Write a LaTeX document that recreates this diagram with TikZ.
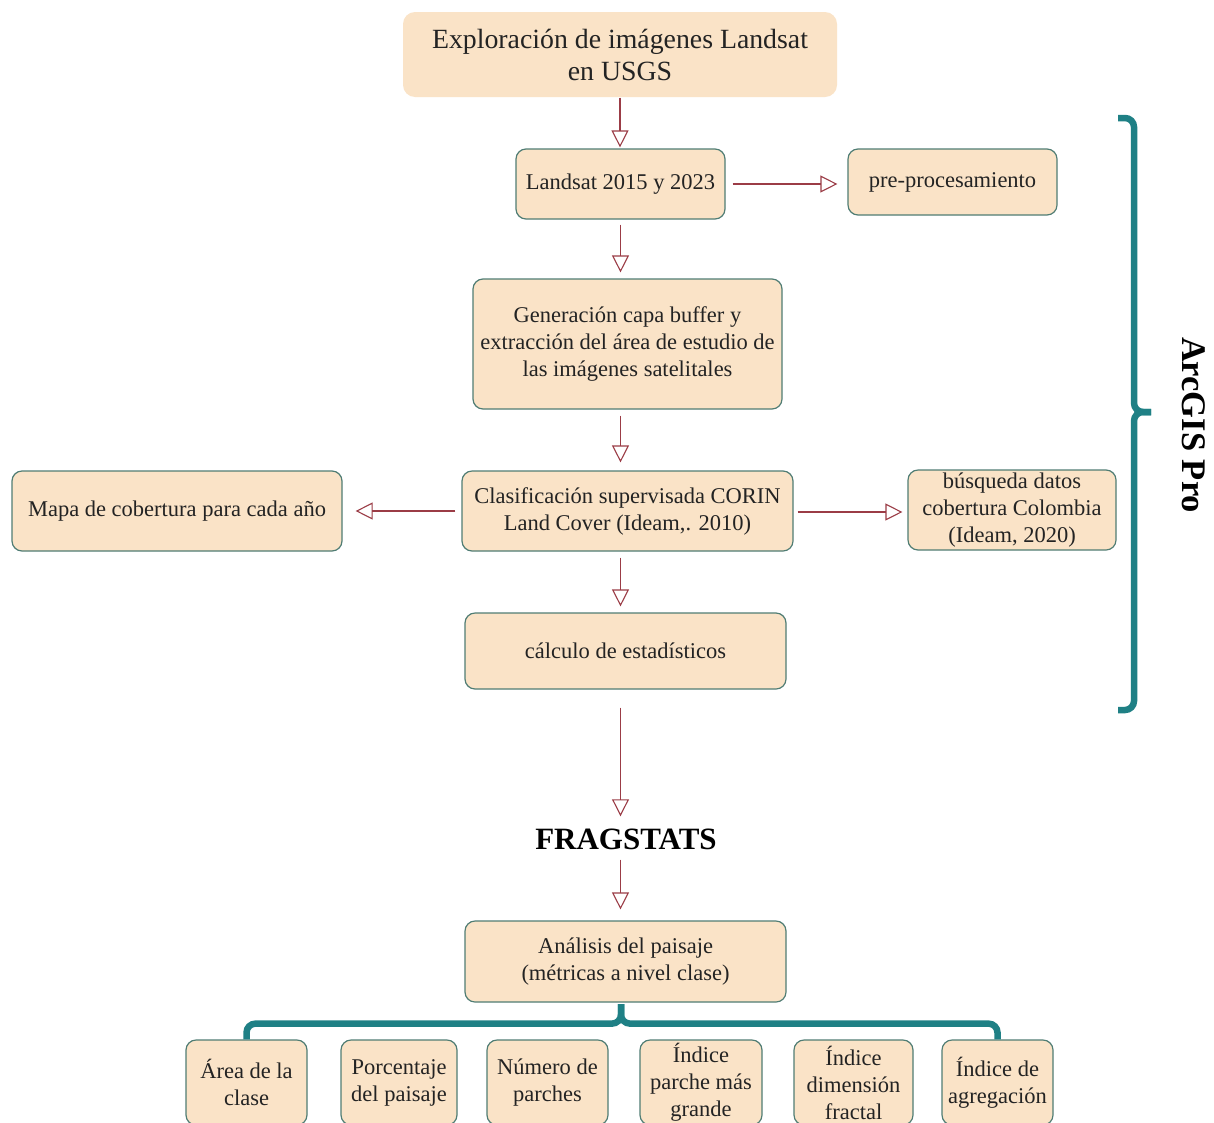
\documentclass[tikz,border=0pt]{standalone}
\usepackage{fontspec}
\setmainfont{Liberation Serif}
\usetikzlibrary{arrows.meta,calc}
\definecolor{peach}{RGB}{250,227,199}
\definecolor{bordc}{RGB}{80,125,116}
\definecolor{arrc}{RGB}{155,60,70}
\definecolor{teal}{RGB}{31,128,133}
\definecolor{txt}{RGB}{35,35,35}
\tikzset{
  box/.style={draw=bordc, fill=peach, rounded corners=10pt, line width=1.2pt,
    align=center, inner sep=0pt, text=txt, font=\fontsize{22.5}{27}\selectfont},
  arr/.style={draw=arrc, line width=1.1pt, -{Triangle[open,length=17pt,width=17pt,line width=1.1pt]}},
  brace/.style={draw=teal, line width=6.5pt, rounded corners=9pt},
}
\begin{document}
\begin{tikzpicture}[x=1pt,y=-1pt]
\useasboundingbox (0,0) rectangle (1214,1122);
\clip (0,0) rectangle (1214,1122);
\fill[white] (0,0) rectangle (1214,1122);

\node[box, draw=none, minimum width=434pt, minimum height=85pt, rounded corners=12pt,
  font=\fontsize{27.8}{32}\selectfont] (top) at (620,54.5)
  {Exploración de imágenes Landsat\\en USGS};
\node[box, minimum width=209pt, minimum height=70pt] (landsat) at (620.5,184) {Landsat 2015 y 2023};
\node[box, minimum width=209pt, minimum height=66pt] (pre) at (952.5,182) {pre-procesamiento};
\node[box, minimum width=309pt, minimum height=130pt] (gen) at (627.5,344)
  {Generación capa buffer y\\extracción del área de estudio de\\las imágenes satelitales};
\node[box, minimum width=331pt, minimum height=80pt] (clas) at (627.5,511)
  {Clasificación supervisada CORIN\\Land Cover (Ideam,. 2010)};
\node[box, minimum width=330pt, minimum height=80pt] (mapa) at (177,511) {Mapa de cobertura para cada año};
\node[box, minimum width=208pt, minimum height=80pt] (busq) at (1012,510)
  {búsqueda datos\\cobertura Colombia\\(Ideam, 2020)};
\node[box, minimum width=321pt, minimum height=76pt] (calc) at (625.5,651) {cálculo de estadísticos};
\node[font=\fontsize{31}{36}\selectfont\bfseries, inner sep=0pt, anchor=base] (frag) at (626,849) {FRAGSTATS};
\node[box, minimum width=321pt, minimum height=81pt] (anal) at (625.5,961.5)
  {Análisis del paisaje\\(métricas a nivel clase)};

\node[box, minimum width=121pt, minimum height=85pt] (b1) at (246.5,1082.5) {Área de la\\clase};
\node[box, minimum width=116pt, minimum height=85pt] (b2) at (399,1082.5) {Porcentaje\\del paisaje};
\node[box, minimum width=121pt, minimum height=85pt] (b3) at (547.5,1082.5) {Número de\\parches};
\node[box, minimum width=122pt, minimum height=85pt] (b4) at (701,1082.5) {Índice\\parche más\\grande};
\node[box, minimum width=119pt, minimum height=85pt] (b5) at (853.5,1082.5) {Índice\\dimensión\\fractal};
\node[box, minimum width=111pt, minimum height=85pt] (b6) at (997.5,1082.5) {Índice de\\agregación};

\node[font=\fontsize{34.5}{40}\selectfont\bfseries, rotate=-90, inner sep=0pt, text=black] (arcgis) at (1194,425) {ArcGIS Pro};

% arrows
\draw[arr, shorten >=1pt] (top.south) -- (top.south |- landsat.north);
\draw[arr, shorten <=5pt, shorten >=6pt] (landsat.south) -- (landsat.south |- gen.north);
\draw[arr, shorten <=6pt, shorten >=8pt] (landsat.south |- gen.south) -- (landsat.south |- clas.north);
\draw[arr, shorten <=6pt, shorten >=6pt] (landsat.south |- clas.south) -- (landsat.south |- calc.north);
\draw[arr, shorten <=18pt, shorten >=12pt] (landsat.south |- calc.south) -- (landsat.south |- frag.north);
\draw[arr, shorten <=10pt, shorten >=11pt] (landsat.south |- frag.south) -- (landsat.south |- anal.north);
\draw[arr, shorten <=7pt, shorten >=10pt] (landsat.east) -- (landsat.east -| pre.west);
\draw[arr, shorten <=6pt, shorten >=13pt] (clas.west) -- (clas.west -| mapa.east);
\draw[arr, shorten <=4pt, shorten >=5pt] ([yshift=-1pt]clas.east) -- ([yshift=-1pt]clas.east -| busq.west);

% bottom brace
\coordinate (bm) at ($(anal.south)+(-4.5,21)$);
\coordinate (btip) at ($(anal.south)+(-4.5,1.5)$);
\draw[brace] (b1.north) |- (bm) -- (btip);
\draw[brace] (b6.north) |- (bm) -- (btip);

% right brace
\coordinate (rtop) at (1118,118);
\coordinate (rbot) at (1118,710);
\coordinate (rmid) at (1134,412);
\coordinate (rtip) at (1151,412);
\draw[brace] (rtop) -| (rmid) -- (rtip);
\draw[brace] (rbot) -| (rmid) -- (rtip);
\end{tikzpicture}
\end{document}
